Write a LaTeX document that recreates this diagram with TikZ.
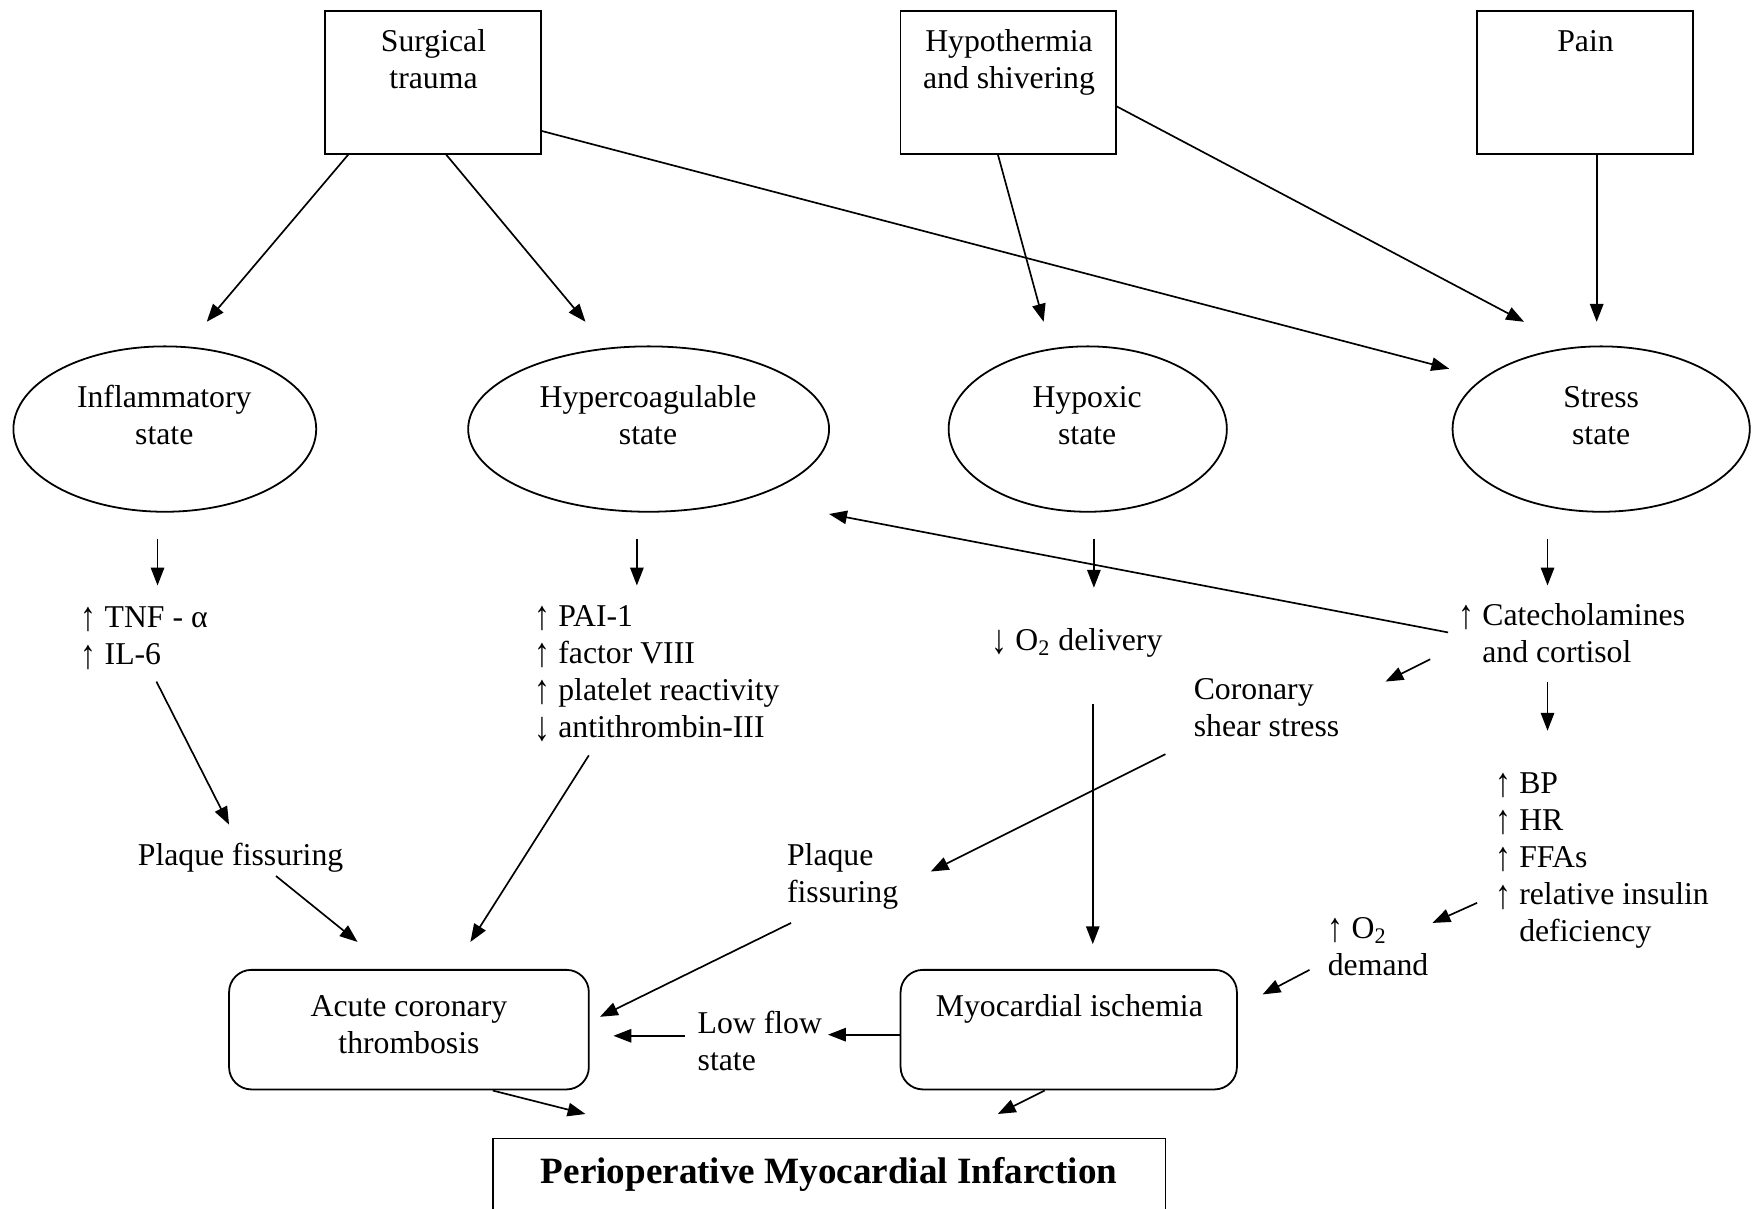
\documentclass[tikz,border=0pt]{standalone}
\usepackage{fontspec}
\setmainfont{Liberation Serif}
\usetikzlibrary{arrows.meta,shapes.geometric}
\newcommand\dsize{\fontsize{14.2pt}{16.6pt}\selectfont}
\newcommand\upar{\raisebox{-0.1em}{\scalebox{1}[1.3]{↑}}}
\newcommand\dnar{\raisebox{-0.1em}{\scalebox{1}[1.3]{↓}}}
\begin{document}
\begin{tikzpicture}[x=0.5pt,y=-0.5pt,
  every node/.style={font=\dsize},
  srcbox/.style={draw, line width=0.8pt, minimum width=96.5pt, minimum height=64pt, inner sep=0pt},
  statenode/.style={ellipse, draw, line width=0.8pt, inner sep=0pt},
  txt/.style={inner sep=0pt, align=left},
  ctr/.style={inner sep=0pt, align=center},
  rbox/.style={draw, rounded corners=10pt, line width=0.8pt, inner sep=0pt},
  arr/.style={-{Triangle[length=8pt,width=6pt]}, line width=0.75pt}]
\useasboundingbox (0,0) rectangle (1568,1082);
\clip (0,0) rectangle (1568,1082);
% source boxes (anchor=base is the baseline of the last line)
\node[srcbox] (surg) at (387.5,74) {};
\node[ctr, anchor=base] (surgt) at (388,79) {Surgical\\trauma};
\node[srcbox] (hypo) at (902.5,74) {};
\node[ctr, anchor=base] (hypot) at (903,79) {Hypothermia\\and shivering};
\node[srcbox] (pain) at (1418.5,74) {};
\node[ctr, anchor=base] (paint) at (1419,46) {Pain};
% states
\node[statenode, minimum width=135.5pt, minimum height=74pt] (infl) at (147.5,384) {};
\node[ctr, anchor=base] (inflt) at (147,398) {Inflammatory\\state};
\node[statenode, minimum width=161.5pt, minimum height=74pt] (hcoag) at (580.5,384) {};
\node[ctr, anchor=base] (hcoagt) at (580,398) {Hypercoagulable\\state};
\node[statenode, minimum width=124.5pt, minimum height=74pt] (hypox) at (973.5,384) {};
\node[ctr, anchor=base] (hypoxt) at (973,398) {Hypoxic\\state};
\node[statenode, minimum width=133pt, minimum height=74pt] (stress) at (1433,384) {};
\node[ctr, anchor=base] (stresst) at (1433,398) {Stress\\state};
% mediators
\node[txt, anchor=base west] (tnf) at (72,595) {\upar{} TNF - α\\\upar{} IL-6};
\node[txt, anchor=base west] (pai) at (478,660) {\upar{} PAI-1\\\upar{} factor VIII\\\upar{} platelet reactivity\\\dnar{} antithrombin-III};
\node[txt, anchor=base west] (o2del) at (887,582) {\dnar{} O\textsubscript{2} delivery};
\node[txt, anchor=base west] (cat) at (1305,593) {\upar{} Catecholamines\\\hphantom{\upar{} }and cortisol};
\node[txt, anchor=base west] (cor) at (1068,659) {Coronary\\shear stress};
\node[txt, anchor=base west] (bp) at (1338,843) {\upar{} BP\\\upar{} HR\\\upar{} FFAs\\\upar{} relative insulin\\\hphantom{\upar{} }deficiency};
\node[txt, anchor=base west] (o2dem) at (1188,873) {\upar{} O\textsubscript{2}\\demand};
\node[txt, anchor=base west] (pf1) at (123,775) {Plaque fissuring};
\node[txt, anchor=base west] (pf2) at (704,808) {Plaque\\fissuring};
\node[txt, anchor=base west] (low) at (624,958) {Low flow\\state};
% outcome boxes
\node[rbox, minimum width=161pt, minimum height=53.5pt] (acute) at (366,921.5) {};
\node[ctr, anchor=base] (acutet) at (366,943) {Acute coronary\\thrombosis};
\node[rbox, minimum width=150.5pt, minimum height=53.5pt] (myo) at (956.5,921.5) {};
\node[ctr, anchor=base] (myot) at (957,910) {Myocardial ischemia};
\node[draw, line width=0.8pt, minimum width=301pt, minimum height=50.5pt, inner sep=0pt] (pmi) at (742,1069.5) {};
\node[ctr, anchor=base, font=\fontsize{16.6pt}{19pt}\selectfont\bfseries] (pmit) at (742,1059) {Perioperative Myocardial Infarction};
% connector end points
\coordinate (s1) at (312,138);  \coordinate (e1) at (185,288);
\coordinate (s2) at (399,138);  \coordinate (e2) at (524,288);
\coordinate (s3) at (484,117);  \coordinate (e3) at (1297,330);
\coordinate (s4) at (893,138);  \coordinate (e4) at (934,288);
\coordinate (s5) at (999,95);   \coordinate (e5) at (1364,288);
\coordinate (s6) at (1429,138); \coordinate (e6) at (1429,288);
\coordinate (s7) at (141,482);  \coordinate (e7) at (141,524);
\coordinate (s8) at (570,482);  \coordinate (e8) at (570,524);
\coordinate (s9) at (979,482);  \coordinate (e9) at (979,526);
\coordinate (s10) at (1385,482); \coordinate (e10) at (1385,524);
\coordinate (s11) at (1296,566); \coordinate (e11) at (742,460);
\coordinate (s12) at (1280,590); \coordinate (e12) at (1240,610);
\coordinate (s13) at (1385,610); \coordinate (e13) at (1385,654);
\coordinate (s14) at (978,630);  \coordinate (e14) at (978,845);
\coordinate (s15) at (1043,675); \coordinate (e15) at (833,780);
\coordinate (s16) at (140,610);  \coordinate (e16) at (205,738);
\coordinate (s17) at (527,676);  \coordinate (e17) at (421,843);
\coordinate (s18) at (247,784);  \coordinate (e18) at (320,843);
\coordinate (s19) at (708,826);  \coordinate (e19) at (537,910);
\coordinate (s20) at (613,927);  \coordinate (e20) at (549,927);
\coordinate (s21) at (806,926);  \coordinate (e21) at (741,926);
\coordinate (s22) at (1322,808); \coordinate (e22) at (1282,826);
\coordinate (s23) at (1172,868); \coordinate (e23) at (1130,890);
\coordinate (s24) at (441,976);  \coordinate (e24) at (524,997);
\coordinate (s25) at (935,976);  \coordinate (e25) at (893,997);
\foreach \i in {1,...,25} {\draw[arr] (s\i) -- (e\i);}
\end{tikzpicture}
\end{document}
